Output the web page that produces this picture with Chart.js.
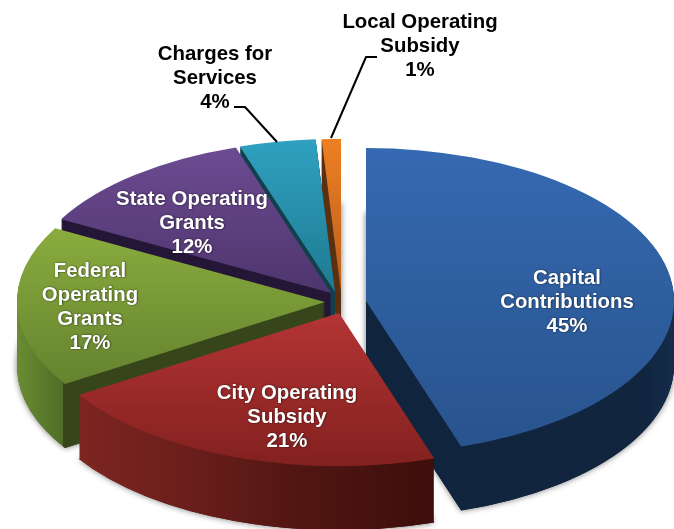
<!DOCTYPE html>
<html>
<head>
<meta charset="utf-8">
<style>html,body{margin:0;padding:0;background:#fff}canvas{display:block}</style>
<script src="https://cdn.jsdelivr.net/npm/chart.js@4"></script>
</head>
<body>
<canvas id="c" width="674" height="529"></canvas>
<script>
const categories = ["Capital Contributions","City Operating Subsidy","Federal Operating Grants","State Operating Grants","Charges for Services","Local Operating Subsidy"];
const shareValues = [45,21,17,12,4,1];
const labelLines = [
  ["Capital","Contributions","45%"],
  ["City Operating","Subsidy","21%"],
  ["Federal","Operating","Grants","17%"],
  ["State Operating","Grants","12%"],
  ["Charges for","Services","4%"],
  ["Local Operating","Subsidy","1%"]
];
const baseColors = ["#2f60a0","#9c2b2b","#7a9a36","#5f4182","#2890aa","#d46f1f"];

const look = {
  cx:342, cy:297, rx:308, ry:153, depth:64,
  explode:[[24,4],[-3,16],[-17,5],[-11,-4],[-7,-5],[-1,-5]],
  topFrom:["#3569b1","#b43434","#8bad3e","#6e4c94","#30a1c1","#ee7f23"],
  topTo:  ["#28538c","#82211f","#63802e","#4e356d","#1e7a90","#b85f1b"],
  topSpan:[[0,1],[0.5,1],[0.25,0.8],[0,0.5],[0,0.5],[0,0.5]],
  walls:[
    [[0,"#10233c"],[0.95,"#11253f"],[1,"#142c4a"]],
    [[0,"#862823"],[0.07,"#7e2521"],[0.27,"#691e1b"],[0.43,"#521612"],[0.66,"#3c0e0b"],[1,"#3c0e0b"]],
    [[0,"#6a8c32"],[0.0747,"#4f6d27"],[0.0748,"#36461a"],[1,"#36461a"]],
    [[0,"#241636"],[1,"#241636"]],
    [[0,"#123f4c"],[1,"#123f4c"]],
    [[0,"#5a3010"],[1,"#5a3010"]]
  ],
  backToFront:[5,4,3,2,0,1],
  labelAt:[[567,278],[287,393],[90,271],[192,199],[215,54],[420,22]],
  lineStep:24,
  leaders:[[[234,107],[245,107],[277,142]],[[377,57],[366,57],[331,138]]]
};

const pie3d = {
  id:'pie3d',
  beforeDatasetsDraw(chart){
    const ctx = chart.ctx, arcs = chart.getDatasetMeta(0).data;
    const stamp = (i, fill, drop) => {
      const arc = arcs[i], saved = arc.options, R = arc.outerRadius, sh = look.explode[i];
      arc.options = {...saved, backgroundColor:fill};
      ctx.save();
      ctx.translate(look.cx+sh[0], look.cy+sh[1]+drop);
      ctx.scale(look.rx/R, look.ry/R);
      ctx.translate(-arc.x, -arc.y);
      arc.draw(ctx);
      ctx.restore();
      arc.options = saved;
    };
    const wallFill = arcs.map((arc,i) => {
      const g = ctx.createLinearGradient(arc.x-arc.outerRadius,0,arc.x+arc.outerRadius,0);
      look.walls[i].forEach(s => g.addColorStop(s[0],s[1]));
      return g;
    });
    const topFill = arcs.map((arc,i) => {
      const g = ctx.createLinearGradient(0,arc.y-arc.outerRadius,0,arc.y+arc.outerRadius);
      g.addColorStop(look.topSpan[i][0],look.topFrom[i]);
      g.addColorStop(look.topSpan[i][1],look.topTo[i]);
      return g;
    });
    ctx.save();
    ctx.shadowColor = 'rgba(0,0,0,0.55)';
    ctx.shadowBlur = 6;
    look.backToFront.forEach(i => stamp(i, wallFill[i], look.depth));
    ctx.restore();
    look.backToFront.forEach(i => {
      for (let d = look.depth; d > 0; d--) stamp(i, wallFill[i], d);
    });
    look.backToFront.forEach(i => stamp(i, topFill[i], 0));
    return false;
  },
  afterDraw(chart){
    const ctx = chart.ctx;
    ctx.save();
    ctx.strokeStyle = '#000'; ctx.lineWidth = 2; ctx.lineJoin='round';
    look.leaders.forEach(p => {
      ctx.beginPath(); ctx.moveTo(p[0][0],p[0][1]);
      p.slice(1).forEach(q => ctx.lineTo(q[0],q[1]));
      ctx.stroke();
    });
    ctx.font = 'bold 20.4px "Liberation Sans", Arial, sans-serif';
    ctx.textAlign = 'center'; ctx.textBaseline = 'middle';
    labelLines.forEach((lines,i) => {
      const dark = i >= 4;
      ctx.fillStyle = dark ? '#000' : '#fff';
      ctx.shadowColor = dark ? 'transparent' : 'rgba(0,0,0,0.7)';
      ctx.shadowBlur = dark ? 0 : 2;
      ctx.shadowOffsetX = dark ? 0 : 0.5; ctx.shadowOffsetY = dark ? 0 : 0.5;
      lines.forEach((t,k) => ctx.fillText(t, look.labelAt[i][0], look.labelAt[i][1]+k*look.lineStep));
    });
    ctx.restore();
  }
};

new Chart(document.getElementById('c'), {
  type:'pie',
  data:{labels:categories, datasets:[{data:shareValues, backgroundColor:baseColors, borderWidth:0}]},
  options:{
    responsive:false, animation:false,
    layout:{padding:0},
    events:[],
    plugins:{legend:{display:false}, tooltip:{enabled:false}}
  },
  plugins:[pie3d]
});
</script>
</body>
</html>
